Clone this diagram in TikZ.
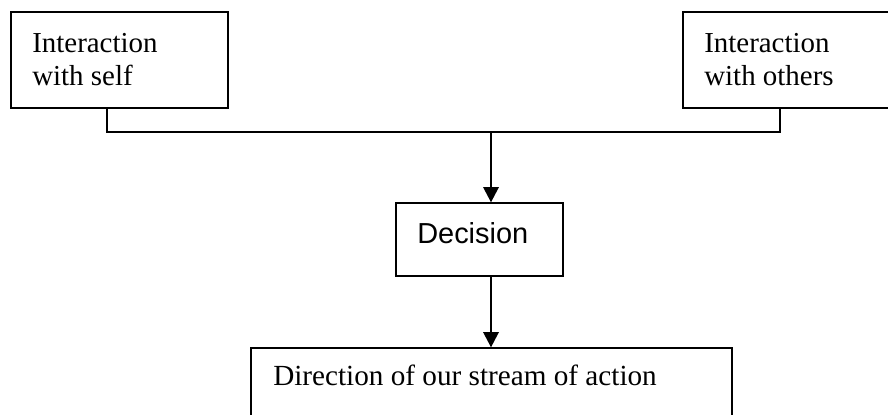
\documentclass[tikz,border=0pt]{standalone}
\usepackage{fontspec}
\setmainfont{Liberation Serif}
\newfontfamily\arialfont{Liberation Sans}
\usetikzlibrary{arrows.meta}
\begin{document}
\begin{tikzpicture}[x=0.75pt,y=-0.75pt,
  boxstyle/.style={draw,line width=0.95pt,inner sep=0pt,rectangle},
  txt/.style={anchor=base west,inner sep=0pt,font=\fontsize{21.7}{24.75}\selectfont,align=left},
  link/.style={line width=0.95pt},
  flow/.style={line width=1.8pt,-{Triangle[length=11.5pt,width=11.5pt]}}]
\useasboundingbox (0,0) rectangle (888,414);
\clip (0,0) rectangle (888,414);
\node[boxstyle,minimum width=162.75pt,minimum height=72pt] (self) at (119.5,60) {};
\node[boxstyle,minimum width=162.75pt,minimum height=72pt] (others) at (791.5,60) {};
\node[boxstyle,minimum width=125.25pt,minimum height=54.75pt] (dec) at (479.5,239.5) {};
\node[boxstyle,minimum width=360.75pt,minimum height=69pt] (dir) at (491.5,394) {};
\node[txt] (tself) at (32,85) {Interaction\\with self};
\node[txt] (tothers) at (704,85) {Interaction\\with others};
\node[txt,font=\arialfont\fontsize{21.7}{25}\selectfont] (tdec) at (417,243) {Decision};
\node[txt,font=\fontsize{21.9}{25}\selectfont] (tdir) at (273,385) {Direction of our stream of action};
\coordinate (j1) at (107,132);
\coordinate (j2) at (780,132);
\coordinate (m) at (491,132);
\draw[link] (self.south -| j1) -- (j1) -- (j2) -- (others.south -| j2);
\draw[flow] (m) -- (dec.north -| m);
\draw[flow] (dec.south -| m) -- (dir.north -| m);
\end{tikzpicture}
\end{document}
